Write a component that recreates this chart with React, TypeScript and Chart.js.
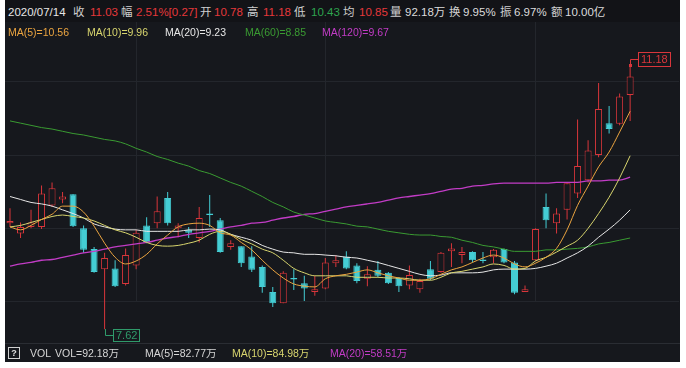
import React, { useEffect, useRef } from "react";
import { Chart, registerables } from "chart.js";
Chart.register(...registerables);

const dates = ["2020/04/15","2020/04/16","2020/04/17","2020/04/20","2020/04/21","2020/04/22","2020/04/23","2020/04/24","2020/04/27","2020/04/28","2020/04/29","2020/04/30","2020/05/06","2020/05/07","2020/05/08","2020/05/11","2020/05/12","2020/05/13","2020/05/14","2020/05/15","2020/05/18","2020/05/19","2020/05/20","2020/05/21","2020/05/22","2020/05/25","2020/05/26","2020/05/27","2020/05/28","2020/05/29","2020/06/01","2020/06/02","2020/06/03","2020/06/04","2020/06/05","2020/06/08","2020/06/09","2020/06/10","2020/06/11","2020/06/12","2020/06/15","2020/06/16","2020/06/17","2020/06/18","2020/06/19","2020/06/22","2020/06/23","2020/06/24","2020/06/29","2020/06/30","2020/07/01","2020/07/02","2020/07/03","2020/07/06","2020/07/07","2020/07/08","2020/07/09","2020/07/10","2020/07/13","2020/07/14"];

const opens = [9.05, 8.91, 9.00, 9.00, 9.29, 9.37, 9.44, 8.98, 8.70, 8.43, 8.44, 8.23, 8.48, 9.02, 9.05, 9.39, 8.98, 8.96, 8.85, 9.18, 9.09, 8.73, 8.74, 8.60, 8.46, 8.12, 7.97, 8.31, 8.24, 8.12, 8.17, 8.51, 8.60, 8.48, 8.30, 8.42, 8.38, 8.31, 8.21, 8.16, 8.43, 8.39, 8.67, 8.62, 8.66, 8.56, 8.59, 8.70, 8.52, 8.12, 8.55, 9.27, 9.05, 9.23, 9.45, 9.63, 9.97, 10.40, 10.39, 10.78];
const highs = [9.25, 9.06, 9.23, 9.56, 9.60, 9.47, 9.44, 9.02, 8.73, 8.65, 8.55, 8.71, 8.96, 9.13, 9.41, 9.47, 9.05, 9.00, 9.27, 9.43, 9.12, 8.82, 8.74, 8.74, 8.48, 8.19, 8.40, 8.43, 8.34, 8.34, 8.58, 8.62, 8.67, 8.51, 8.47, 8.54, 8.39, 8.32, 8.48, 8.30, 8.54, 8.66, 8.78, 8.73, 8.67, 8.66, 8.70, 8.71, 8.54, 8.21, 8.98, 9.45, 9.25, 9.59, 10.45, 10.17, 10.94, 10.63, 10.80, 11.18];
const lows = [9.00, 8.85, 8.98, 8.97, 9.27, 9.32, 9.00, 8.65, 8.38, 7.62, 8.19, 8.21, 8.43, 8.78, 8.98, 9.02, 8.86, 8.85, 8.79, 9.00, 8.65, 8.69, 8.46, 8.39, 8.11, 7.92, 7.97, 8.15, 8.00, 8.07, 8.16, 8.46, 8.43, 8.24, 8.20, 8.32, 8.23, 8.12, 8.16, 8.11, 8.28, 8.38, 8.46, 8.51, 8.52, 8.51, 8.51, 8.51, 8.09, 8.12, 8.54, 8.98, 8.91, 9.10, 9.39, 9.60, 9.94, 10.26, 10.37, 10.43];
const closes = [9.08, 9.00, 9.06, 9.45, 9.52, 9.41, 9.01, 8.69, 8.39, 8.58, 8.20, 8.62, 8.92, 8.79, 9.21, 9.05, 9.02, 8.92, 9.12, 9.16, 8.66, 8.78, 8.51, 8.42, 8.19, 7.97, 8.38, 8.29, 8.17, 8.16, 8.52, 8.55, 8.44, 8.27, 8.36, 8.34, 8.24, 8.20, 8.35, 8.27, 8.30, 8.65, 8.71, 8.66, 8.55, 8.54, 8.69, 8.52, 8.11, 8.16, 8.97, 9.09, 9.18, 9.59, 9.82, 10.03, 10.59, 10.32, 10.76, 11.03];

const ma5 = [9.00, 8.96, 9.02, 9.10, 9.17, 9.28, 9.28, 9.20, 9.01, 8.78, 8.59, 8.50, 8.54, 8.63, 8.77, 8.89, 9.00, 9.04, 9.05, 9.02, 8.92, 8.89, 8.79, 8.69, 8.55, 8.42, 8.31, 8.23, 8.20, 8.19, 8.30, 8.34, 8.36, 8.39, 8.42, 8.38, 8.34, 8.31, 8.28, 8.28, 8.30, 8.36, 8.42, 8.46, 8.52, 8.58, 8.62, 8.58, 8.50, 8.46, 8.51, 8.59, 8.71, 8.96, 9.29, 9.55, 9.81, 10.01, 10.28, 10.56];
const ma10 = [9.00, 9.02, 9.06, 9.10, 9.14, 9.16, 9.14, 9.12, 9.08, 9.02, 8.96, 8.92, 8.86, 8.79, 8.75, 8.74, 8.75, 8.78, 8.82, 8.90, 8.94, 8.90, 8.83, 8.77, 8.70, 8.65, 8.55, 8.44, 8.38, 8.34, 8.34, 8.34, 8.34, 8.32, 8.32, 8.32, 8.31, 8.31, 8.30, 8.28, 8.28, 8.32, 8.38, 8.40, 8.43, 8.46, 8.50, 8.48, 8.43, 8.44, 8.54, 8.59, 8.66, 8.74, 8.82, 8.98, 9.18, 9.40, 9.66, 9.96];
const ma20 = [9.41, 9.37, 9.33, 9.31, 9.28, 9.23, 9.18, 9.12, 9.04, 9.00, 8.97, 8.96, 8.96, 8.94, 8.94, 8.94, 8.94, 8.96, 8.96, 8.97, 8.96, 8.90, 8.86, 8.82, 8.75, 8.70, 8.66, 8.65, 8.63, 8.63, 8.62, 8.61, 8.59, 8.58, 8.55, 8.52, 8.48, 8.44, 8.40, 8.36, 8.34, 8.35, 8.38, 8.38, 8.38, 8.39, 8.42, 8.43, 8.43, 8.43, 8.44, 8.47, 8.51, 8.58, 8.65, 8.74, 8.86, 8.97, 9.09, 9.23];
const ma60 = [10.43, 10.40, 10.37, 10.34, 10.32, 10.29, 10.26, 10.24, 10.21, 10.18, 10.16, 10.12, 10.06, 10.01, 9.95, 9.91, 9.86, 9.82, 9.76, 9.72, 9.66, 9.60, 9.55, 9.48, 9.41, 9.33, 9.27, 9.20, 9.16, 9.12, 9.08, 9.06, 9.04, 9.01, 9.00, 8.97, 8.94, 8.92, 8.90, 8.89, 8.89, 8.87, 8.86, 8.82, 8.79, 8.75, 8.73, 8.70, 8.67, 8.67, 8.67, 8.69, 8.69, 8.70, 8.71, 8.73, 8.77, 8.79, 8.82, 8.85];
const ma120 = [8.47, 8.50, 8.52, 8.55, 8.56, 8.59, 8.62, 8.65, 8.67, 8.70, 8.73, 8.75, 8.77, 8.79, 8.82, 8.85, 8.87, 8.90, 8.92, 8.94, 8.97, 9.00, 9.02, 9.05, 9.06, 9.09, 9.12, 9.14, 9.17, 9.18, 9.21, 9.24, 9.27, 9.29, 9.31, 9.33, 9.36, 9.39, 9.41, 9.43, 9.45, 9.48, 9.51, 9.52, 9.55, 9.56, 9.58, 9.59, 9.59, 9.59, 9.59, 9.59, 9.60, 9.60, 9.60, 9.62, 9.62, 9.63, 9.63, 9.67];

const maNames = ["MA(5)", "MA(10)", "MA(20)", "MA(60)", "MA(120)"];
const maSeries = [ma5, ma10, ma20, ma60, ma120];
const maColors = ["#eca540", "#d8d56e", "#e6e6e6", "#3a9b32", "#c23cc6"];

const volLabels = ["VOL=92.18万", "MA(5)=82.77万", "MA(10)=84.98万", "MA(20)=58.51万"];
const volColors = ["#d6d6d6", "#d6d6d6", "#d8d56e", "#c23cc6"];

const priceMin = 8.0;
const priceMax = 11.94;

const UP = "#d9363b";
const DOWN = "#44cdd4";
const LOWC = "#2f9a6a";
const BG = "#16181d";
const GRID = "#23262c";

const monthStarts = dates
  .map((d, i) => (i > 0 && d.slice(0, 7) !== dates[i - 1].slice(0, 7) ? i : -1))
  .filter((i) => i >= 0);

const markPlugin = {
  id: "marks",
  afterDatasetsDraw(chart: any) {
    const ctx = chart.ctx;
    const xs = chart.scales.x;
    const ys = chart.scales.y;
    let hi = 0;
    let lo = 0;
    highs.forEach((v, i) => { if (v > highs[hi]) hi = i; });
    lows.forEach((v, i) => { if (v < lows[lo]) lo = i; });
    ctx.save();
    ctx.font = '11px "Liberation Sans", Arial, sans-serif';
    ctx.textBaseline = "middle";
    ctx.lineWidth = 1;
    {
      const x = Math.round(xs.getPixelForValue(hi)) + 0.5;
      const y = Math.round(ys.getPixelForValue(highs[hi]));
      const cy = y - 5.5;
      ctx.strokeStyle = UP;
      ctx.fillStyle = UP;
      ctx.fillRect(x - 1.5, y - 1, 3, 3);
      ctx.beginPath();
      ctx.moveTo(x, y);
      ctx.lineTo(x, cy);
      ctx.lineTo(x + 8, cy);
      ctx.stroke();
      const t = highs[hi].toFixed(2);
      const w = Math.round(ctx.measureText(t).width + 5);
      ctx.fillStyle = BG;
      ctx.fillRect(x + 8, cy - 7, w, 14);
      ctx.strokeRect(x + 8, cy - 7, w, 14);
      ctx.fillStyle = UP;
      ctx.fillText(t, x + 10.5, cy + 0.5);
    }
    {
      const x = Math.round(xs.getPixelForValue(lo)) + 0.5;
      const y = Math.round(ys.getPixelForValue(lows[lo]));
      const cy = y + 6.5;
      ctx.strokeStyle = LOWC;
      ctx.fillStyle = LOWC;
      ctx.beginPath();
      ctx.moveTo(x, y);
      ctx.lineTo(x, cy);
      ctx.lineTo(x + 8, cy);
      ctx.stroke();
      const t = lows[lo].toFixed(2);
      const w = Math.round(ctx.measureText(t).width + 5);
      ctx.fillStyle = BG;
      ctx.fillRect(x + 8, cy - 6, w, 12);
      ctx.strokeRect(x + 8, cy - 6, w, 12);
      ctx.fillStyle = LOWC;
      ctx.fillText(t, x + 10.5, cy + 0.5);
    }
    ctx.restore();
  },
};

const FONT = '"Liberation Sans", "Noto Sans CJK SC", Arial, sans-serif';

function T(props: { x: number; y: number; c: string; s: number; children: any }) {
  return (
    <span
      style={{
        position: "absolute",
        left: props.x,
        top: props.y - 8,
        height: 16,
        lineHeight: "16px",
        fontSize: props.s,
        color: props.c,
        whiteSpace: "nowrap",
        fontFamily: FONT,
      }}
    >
      {props.children}
    </span>
  );
}

export default function App() {
  const ref = useRef<HTMLCanvasElement | null>(null);

  useEffect(() => {
    if (!ref.current) return;
    const up = closes.map((c, i) => c >= opens[i]);
    const lineSets = maSeries.map((arr, k) => ({
      type: "line" as const,
      label: maNames[k],
      data: arr.map((v, i) => ({ x: i, y: v })),
      borderColor: maColors[k],
      borderWidth: k === 4 ? 1.3 : 1,
      pointRadius: 0,
      cubicInterpolationMode: "monotone" as const,
      order: 0,
      clip: false,
    }));
    const chart = new Chart(ref.current, {
      type: "bar",
      data: {
        datasets: [
          ...lineSets,
          {
            type: "bar",
            label: "body",
            data: opens.map((o, i) => ({ x: i, y: [o, closes[i]] })),
            backgroundColor: up.map((u) => (u ? BG : DOWN)),
            borderColor: up.map((u) => (u ? UP : DOWN)),
            borderWidth: 1,
            borderSkipped: false,
            barThickness: 7,
            minBarLength: 1,
            grouped: false,
            inflateAmount: 0,
            order: 1,
            clip: false,
          },
          {
            type: "bar",
            label: "wick",
            data: lows.map((l, i) => ({ x: i, y: [l, highs[i]] })),
            backgroundColor: up.map((u) => (u ? UP : DOWN)),
            borderWidth: 0,
            barThickness: 1,
            grouped: false,
            inflateAmount: 0,
            order: 2,
            clip: false,
          },
        ] as any,
      },
      options: {
        responsive: false,
        animation: false,
        events: [],
        layout: { padding: { left: 4.75, right: 7, top: 9, bottom: 67 } },
        plugins: { legend: { display: false }, tooltip: { enabled: false } },
        scales: {
          x: {
            type: "linear",
            min: -0.5,
            max: 63.65,
            offset: false,
            ticks: { display: false },
            grid: { color: GRID, drawTicks: false, offset: false },
            border: { display: false },
            afterBuildTicks: (s: any) => {
              s.ticks = monthStarts.map((v) => ({ value: v }));
            },
          },
          y: {
            min: priceMin,
            max: priceMax,
            ticks: { display: false, count: 5 },
            grid: { color: GRID, drawTicks: false },
            border: { display: false },
          },
        },
      } as any,
      plugins: [markPlugin],
    });
    return () => chart.destroy();
  }, []);

  const last = closes.length - 1;
  const maVals = maSeries.map((a) => a[last].toFixed(2));

  return (
    <div style={{ position: "absolute", left: 0, top: 0, width: 686, height: 368, background: "#ffffff", overflow: "hidden" }}>
      <div style={{ position: "absolute", left: 5, top: 0, width: 675, height: 362, background: BG }} />
      <canvas ref={ref} width={686} height={368} style={{ position: "absolute", left: 0, top: 0, width: 686, height: 368 }} />
      <div style={{ position: "absolute", left: 5, top: 0, width: 675, height: 22, background: "#121317" }} />
      <div style={{ position: "absolute", left: 5, top: 343, width: 675, height: 1, background: "#2a2d33" }} />

      <T x={8} y={12} c="#e6e6e6" s={11.5}>{dates[last]}</T>
      <T x={73} y={12} c="#cfcfcf" s={11.5}>收</T>
      <T x={90} y={12} c="#e5383b" s={11.5}>{closes[last].toFixed(2)}</T>
      <T x={121} y={12} c="#cfcfcf" s={11.5}>幅</T>
      <T x={136} y={12} c="#e5383b" s={11.5}>2.51%[0.27]</T>
      <T x={200} y={12} c="#cfcfcf" s={11.5}>开</T>
      <T x={214} y={12} c="#e5383b" s={11.5}>{opens[last].toFixed(2)}</T>
      <T x={247} y={12} c="#cfcfcf" s={11.5}>高</T>
      <T x={263} y={12} c="#e5383b" s={11.5}>{highs[last].toFixed(2)}</T>
      <T x={294} y={12} c="#cfcfcf" s={11.5}>低</T>
      <T x={311} y={12} c="#2ea44f" s={11.5}>{lows[last].toFixed(2)}</T>
      <T x={343} y={12} c="#cfcfcf" s={11.5}>均</T>
      <T x={359} y={12} c="#e5383b" s={11.5}>10.85</T>
      <T x={390} y={12} c="#cfcfcf" s={11.5}>量</T>
      <T x={405} y={12} c="#dcdcdc" s={11.5}>92.18万</T>
      <T x={449} y={12} c="#cfcfcf" s={11.5}>换</T>
      <T x={463} y={12} c="#dcdcdc" s={11.5}>9.95%</T>
      <T x={500} y={12} c="#cfcfcf" s={11.5}>振</T>
      <T x={514} y={12} c="#dcdcdc" s={11.5}>6.97%</T>
      <T x={551} y={12} c="#cfcfcf" s={11.5}>额</T>
      <T x={565} y={12} c="#dcdcdc" s={11.5}>10.00亿</T>

      {[8, 87, 165, 245, 322].map((x, k) => (
        <T key={k} x={x} y={32} c={maColors[k]} s={10.5}>{maNames[k] + "=" + maVals[k]}</T>
      ))}

      <div
        style={{
          position: "absolute", left: 8, top: 347, width: 10, height: 10, border: "1px solid #d0d0d0",
          color: "#e0e0e0", fontSize: 9, lineHeight: "10px", textAlign: "center", fontWeight: "bold", fontFamily: FONT,
        }}
      >?</div>
      <T x={30} y={353} c="#d6d6d6" s={10.5}>VOL</T>
      {[55, 145, 232, 330].map((x, k) => (
        <T key={k} x={x} y={353} c={volColors[k]} s={10.5}>{volLabels[k]}</T>
      ))}
    </div>
  );
}
